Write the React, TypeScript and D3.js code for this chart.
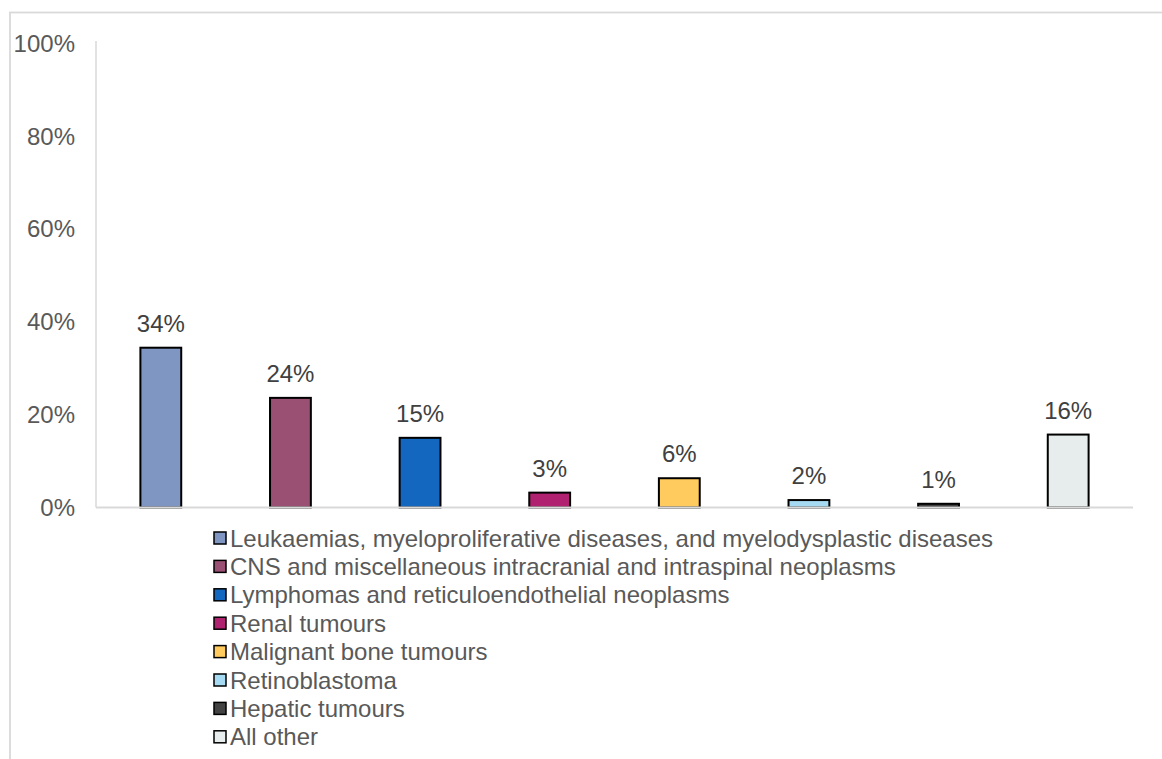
import React from "react";
import * as d3 from "d3";

const categories: string[] = [
  "Leukaemias, myeloproliferative diseases, and myelodysplastic diseases",
  "CNS and miscellaneous intracranial and intraspinal neoplasms",
  "Lymphomas and reticuloendothelial neoplasms",
  "Renal tumours",
  "Malignant bone tumours",
  "Retinoblastoma",
  "Hepatic tumours",
  "All other",
];

const shares: number[] = [0.344, 0.236, 0.150, 0.032, 0.063, 0.016, 0.008, 0.157];

const colors: string[] = [
  "#7f96c3",
  "#9a5073",
  "#1467bf",
  "#b0226f",
  "#ffcb5e",
  "#a5daf2",
  "#434343",
  "#e7ecec",
];

const yTicks: number[] = [0, 0.2, 0.4, 0.6, 0.8, 1.0];

const W = 1162;
const H = 759;
const FONT = "'Liberation Sans', Arial, sans-serif";

export default function App() {
  const x = d3
    .scaleBand<string>()
    .domain(categories)
    .range([96, 1133])
    .paddingInner(0.685)
    .paddingOuter(0.3425);
  const y = d3.scaleLinear().domain([0, 1]).range([507.5, 43]);
  const pct = d3.format(".0%");

  const legendX = 214;
  const legendY0 = 538;
  const legendStep = 28.4;

  return (
    <svg
      width={W}
      height={H}
      style={{ position: "absolute", left: 0, top: 0, background: "#fff" }}
      fontFamily={FONT}
    >
      {/* chart frame */}
      <rect x={10} y={12.5} width={1165} height={770} fill="none" stroke="#d9d9d9" strokeWidth={1.8} />

      {/* y axis line */}
      <line x1={96} x2={96} y1={41} y2={y(0)} stroke="#d9d9d9" strokeWidth={1.5} />

      {/* y tick labels */}
      {yTicks.map((t) => (
        <text
          key={t}
          x={75}
          y={y(t)}
          dy="0.36em"
          textAnchor="end"
          fontSize={24}
          fill="#595959"
        >
          {pct(t)}
        </text>
      ))}

      {/* bars */}
      {categories.map((c, i) => (
        <rect
          key={c}
          x={x(c)}
          y={y(shares[i])}
          width={x.bandwidth()}
          height={y(0) - y(shares[i])}
          fill={colors[i]}
          stroke="#000"
          strokeWidth={2}
        />
      ))}

      {/* baseline */}
      <line x1={96} x2={1133} y1={y(0)} y2={y(0)} stroke="#d9d9d9" strokeWidth={1.8} />

      {/* value labels */}
      {categories.map((c, i) => (
        <text
          key={c}
          x={(x(c) ?? 0) + x.bandwidth() / 2}
          y={y(shares[i]) - 16}
          textAnchor="middle"
          fontSize={24}
          fill="#404040"
        >
          {pct(shares[i])}
        </text>
      ))}

      {/* legend */}
      {categories.map((c, i) => {
        const cy = legendY0 + i * legendStep;
        return (
          <g key={c}>
            <rect
              x={legendX}
              y={cy - 6}
              width={12}
              height={12}
              fill={colors[i]}
              stroke="#000"
              strokeWidth={1.5}
            />
            <text x={230} y={cy} dy="0.36em" fontSize={24} fill="#595959">
              {c}
            </text>
          </g>
        );
      })}
    </svg>
  );
}
